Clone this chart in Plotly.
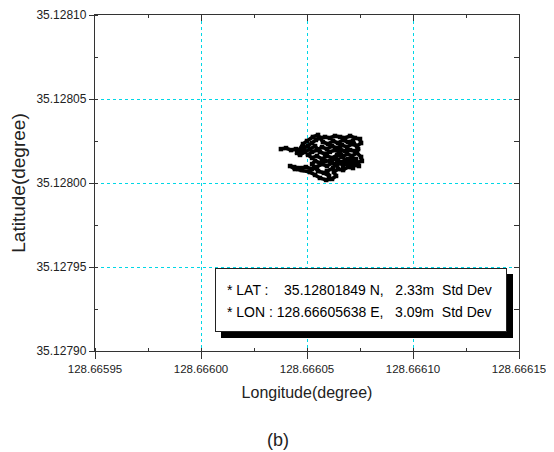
import plotly.graph_objects as go

# GPS fixes (degrees)
lon = [128.6660377, 128.6660401, 128.6660425, 128.6660448, 128.6660467, 128.6660486, 128.6660505, 128.6660524,
       128.6660542, 128.6660561, 128.6660585, 128.6660608, 128.6660632, 128.6660656, 128.6660679, 128.6660703,
       128.6660726, 128.6660750, 128.6660755, 128.6660736, 128.6660712, 128.6660689, 128.6660665, 128.6660642,
       128.6660618, 128.6660594, 128.6660571, 128.6660547, 128.6660524, 128.6660505, 128.6660524, 128.6660547,
       128.6660571, 128.6660594, 128.6660618, 128.6660642, 128.6660665, 128.6660689, 128.6660712, 128.6660736,
       128.6660755, 128.6660759, 128.6660736, 128.6660712, 128.6660689, 128.6660665, 128.6660642, 128.6660618,
       128.6660594, 128.6660571, 128.6660547, 128.6660524, 128.6660495, 128.6660467, 128.6660439, 128.6660420,
       128.6660443, 128.6660476, 128.6660514, 128.6660538, 128.6660561, 128.6660590, 128.6660618, 128.6660637,
       128.6660627, 128.6660646, 128.6660670, 128.6660693, 128.6660717, 128.6660703, 128.6660679, 128.6660656,
       128.6660632, 128.6660608, 128.6660585, 128.6660561, 128.6660538, 128.6660514, 128.6660491, 128.6660467,
       128.6660453, 128.6660481, 128.6660500, 128.6660528, 128.6660552, 128.6660575, 128.6660599, 128.6660623,
       128.6660646, 128.6660670, 128.6660693, 128.6660717, 128.6660741, 128.6660726, 128.6660703, 128.6660679,
       128.6660656, 128.6660632, 128.6660608, 128.6660585, 128.6660561, 128.6660538, 128.6660524, 128.6660552,
       128.6660580, 128.6660604, 128.6660594, 128.6660623, 128.6660646, 128.6660670, 128.6660693, 128.6660731,
       128.6660745, 128.6660722]
lat = [35.1280202, 35.1280208, 35.1280196, 35.1280202, 35.1280190, 35.1280208, 35.1280220, 35.1280238,
       35.1280256, 35.1280268, 35.1280274, 35.1280268, 35.1280280, 35.1280274, 35.1280268, 35.1280280,
       35.1280268, 35.1280262, 35.1280238, 35.1280220, 35.1280232, 35.1280214, 35.1280226, 35.1280208,
       35.1280220, 35.1280202, 35.1280214, 35.1280196, 35.1280185, 35.1280167, 35.1280149, 35.1280161,
       35.1280143, 35.1280161, 35.1280149, 35.1280167, 35.1280155, 35.1280173, 35.1280161, 35.1280179,
       35.1280155, 35.1280131, 35.1280119, 35.1280131, 35.1280113, 35.1280125, 35.1280107, 35.1280119,
       35.1280101, 35.1280113, 35.1280095, 35.1280083, 35.1280095, 35.1280089, 35.1280095, 35.1280101,
       35.1280083, 35.1280077, 35.1280065, 35.1280048, 35.1280030, 35.1280018, 35.1280024, 35.1280042,
       35.1280065, 35.1280083, 35.1280077, 35.1280095, 35.1280089, 35.1280113, 35.1280137, 35.1280185,
       35.1280196, 35.1280185, 35.1280173, 35.1280185, 35.1280220, 35.1280202, 35.1280185, 35.1280167,
       35.1280179, 35.1280232, 35.1280250, 35.1280274, 35.1280286, 35.1280244, 35.1280232, 35.1280250,
       35.1280238, 35.1280256, 35.1280244, 35.1280250, 35.1280202, 35.1280190, 35.1280196, 35.1280190,
       35.1280202, 35.1280143, 35.1280131, 35.1280131, 35.1280119, 35.1280131, 35.1280113, 35.1280071,
       35.1280060, 35.1280042, 35.1280071, 35.1280089, 35.1280137, 35.1280101, 35.1280143, 35.1280143,
       35.1280101, 35.1280107]

x_range = [128.66595, 128.66615]
y_range = [35.12790, 35.12810]
x_ticks = [128.66595, 128.66600, 128.66605, 128.66610, 128.66615]
y_ticks = [35.12790, 35.12795, 35.12800, 35.12805, 35.12810]
x_tick_labels = ["128.66595", "128.66600", "128.66605", "128.66610", "128.66615"]
y_tick_labels = ["35.12790", "35.12795", "35.12800", "35.12805", "35.12810"]
minor_step = 0.000025

stats_lat = "* LAT :\u00a0\u00a0\u00a0\u00a035.12801849 N,\u00a0\u00a0\u00a02.33m\u00a0\u00a0Std Dev"
stats_lon = "* LON : 128.66605638 E,\u00a0\u00a0\u00a03.09m\u00a0\u00a0Std Dev"

FONT = "Liberation Sans, Arial, sans-serif"
AX = "#333333"
GRID = "rgb(0,215,230)"

fig = go.Figure()
fig.add_trace(go.Scatter(
    x=lon, y=lat, mode="lines+markers",
    line=dict(color="black", width=3.6),
    marker=dict(color="black", size=4.5, symbol="square"),
    showlegend=False, hoverinfo="skip"))
# invisible trace for top/right mirror axes
fig.add_trace(go.Scatter(x=x_range, y=y_range, xaxis="x2", yaxis="y2",
                         mode="markers", marker=dict(opacity=0), showlegend=False, hoverinfo="skip"))

common = dict(showline=True, linecolor=AX, linewidth=1.3, zeroline=False, tickcolor=AX)

# page body adds an 8px offset, so the figure is sized to fill the rest of the window
fig.update_layout(
    template="none",
    width=546, height=444,
    margin=dict(l=87, r=35, t=7, b=101),
    paper_bgcolor="white", plot_bgcolor="white",
    font=dict(family=FONT, color="#222222"),
    xaxis=dict(range=x_range, tickmode="array", tickvals=x_ticks, ticktext=x_tick_labels,
               ticks="outside", ticklen=7, tickwidth=1, ticklabeloverflow="allow",
               showgrid=True, gridcolor=GRID, griddash="dot", gridwidth=1,
               tickfont=dict(size=11.5, color="#222222"),
               title=dict(text="Longitude(degree)", font=dict(size=16, color="#222222"), standoff=12),
               minor=dict(tick0=x_range[0], dtick=minor_step, ticks="inside", ticklen=3, tickcolor=AX,
                          showgrid=False),
               **common),
    yaxis=dict(range=y_range, tickmode="array", tickvals=y_ticks, ticktext=y_tick_labels,
               ticks="outside", ticklen=5, tickwidth=1,
               showgrid=True, gridcolor=GRID, griddash="dot", gridwidth=1,
               tickfont=dict(size=12, color="#222222"),
               title=dict(text="Latitude(degree)", font=dict(size=19, color="#222222"), standoff=8),
               minor=dict(tick0=y_range[0], dtick=minor_step, ticks="inside", ticklen=3, tickcolor=AX,
                          showgrid=False),
               **common),
    xaxis2=dict(range=x_range, tickmode="array", tickvals=x_ticks, overlaying="x", side="top",
                ticks="inside", ticklen=6, showticklabels=False, showgrid=False,
                minor=dict(tick0=x_range[0], dtick=minor_step, ticks="inside", ticklen=3, tickcolor=AX,
                           showgrid=False),
                **common),
    yaxis2=dict(range=y_range, tickmode="array", tickvals=y_ticks, overlaying="y", side="right",
                ticks="inside", ticklen=5, showticklabels=False, showgrid=False,
                minor=dict(tick0=y_range[0], dtick=minor_step, ticks="inside", ticklen=5, tickcolor=AX,
                           showgrid=False),
                **common),
)

# stats box: shadow, box, and two text lines
box_x, box_y = 0.627, 0.152
fig.add_annotation(xref="paper", yref="paper", x=box_x, y=box_y, xanchor="center", yanchor="middle",
                   text=" ", showarrow=False, width=290, height=62, bgcolor="black",
                   bordercolor="black", borderwidth=1, borderpad=0, xshift=6, yshift=-6)
fig.add_annotation(xref="paper", yref="paper", x=box_x, y=box_y, xanchor="center", yanchor="middle",
                   text=" ", showarrow=False, width=290, height=62, bgcolor="white",
                   bordercolor="#222222", borderwidth=1, borderpad=0)
fig.add_annotation(xref="paper", yref="paper", x=box_x, y=box_y, xanchor="center", yanchor="middle",
                   text=stats_lat, showarrow=False, align="left", yshift=10, xshift=-1,
                   font=dict(family=FONT, size=14, color="black"))
fig.add_annotation(xref="paper", yref="paper", x=box_x, y=box_y, xanchor="center", yanchor="middle",
                   text=stats_lon, showarrow=False, align="left", yshift=-12, xshift=-1,
                   font=dict(family=FONT, size=14, color="black"))
# caption
fig.add_annotation(xref="paper", yref="paper", x=0.432, y=-0.265, xanchor="center", yanchor="middle",
                   text="(b)", showarrow=False, font=dict(family=FONT, size=18, color="#222222"))

fig.write_html("out.html")
